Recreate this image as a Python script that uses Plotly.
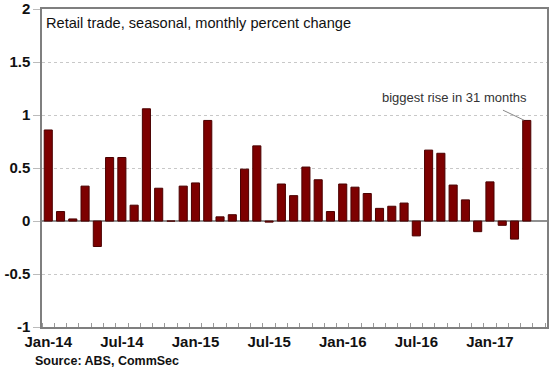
import plotly.graph_objects as go

months = ["Jan-14","Feb-14","Mar-14","Apr-14","May-14","Jun-14","Jul-14","Aug-14","Sep-14","Oct-14","Nov-14","Dec-14",
          "Jan-15","Feb-15","Mar-15","Apr-15","May-15","Jun-15","Jul-15","Aug-15","Sep-15","Oct-15","Nov-15","Dec-15",
          "Jan-16","Feb-16","Mar-16","Apr-16","May-16","Jun-16","Jul-16","Aug-16","Sep-16","Oct-16","Nov-16","Dec-16",
          "Jan-17","Feb-17","Mar-17","Apr-17"]
values = [0.86, 0.09, 0.02, 0.33, -0.24, 0.60, 0.60, 0.15, 1.06, 0.31, 0.00, 0.33,
          0.36, 0.95, 0.04, 0.06, 0.49, 0.71, -0.01, 0.35, 0.24, 0.51, 0.39, 0.09,
          0.35, 0.32, 0.26, 0.12, 0.14, 0.17, -0.14, 0.67, 0.64, 0.34, 0.20, -0.10,
          0.37, -0.04, -0.17, 0.95]
tick_labels = ["Jan-14", "Jul-14", "Jan-15", "Jul-15", "Jan-16", "Jul-16", "Jan-17"]
y_ticks = [-1, -0.5, 0, 0.5, 1, 1.5, 2]

x = list(range(len(months)))
tick_pos = [months.index(t) for t in tick_labels]

fig = go.Figure()
fig.add_trace(go.Bar(
    x=x, y=values,
    marker=dict(color="#7d0000", line=dict(color="#4a0000", width=1)),
    width=0.66,
    hovertext=months,
))

axis_color = "#7f7f7f"
fig.update_layout(
    width=550, height=373,
    margin=dict(l=42, r=3, t=9, b=46),
    paper_bgcolor="white", plot_bgcolor="white",
    showlegend=False,
    font=dict(family="Liberation Sans, Arial", color="#111"),
    xaxis=dict(
        range=[-0.51, 40.65], automargin=False,
        tickmode="array", tickvals=tick_pos, ticktext=tick_labels,
        ticks="", showgrid=False, zeroline=False, ticklabeloverflow="allow",
        showline=True, linecolor=axis_color, linewidth=1.5, mirror=True,
        tickfont=dict(size=15, family="Liberation Sans, Arial", color="#111", weight="bold"),
        minor=dict(tickmode="linear", tick0=0.5, dtick=1, ticks="inside", ticklen=4,
                   tickcolor="#999", showgrid=False),
    ),
    yaxis=dict(
        range=[-1, 2.002], automargin=False, ticklabeloverflow="allow",
        tickmode="array", tickvals=y_ticks, ticktext=[f"{v:g}" for v in y_ticks],
        ticks="outside", ticklen=7, tickcolor="#bbb",
        showgrid=True, gridcolor="#c8c8c8", griddash="dot", gridwidth=1,
        zeroline=True, zerolinecolor="#909090", zerolinewidth=1.5,
        showline=True, linecolor=axis_color, linewidth=1.5, mirror=True,
        tickfont=dict(size=15, family="Liberation Sans, Arial", color="#111", weight="bold"),
    ),
    bargap=0.34,
)

fig.add_annotation(
    xref="paper", yref="paper", x=0.003, y=0.988, xanchor="left", yanchor="top",
    text="Retail trade, seasonal, monthly percent change", showarrow=False,
    font=dict(size=14.6, family="Liberation Sans, Arial", color="#111"),
)
fig.add_annotation(
    xref="x", yref="y", x=33.15, y=1.17, xanchor="center", yanchor="middle",
    text="biggest rise in 31 months", showarrow=False,
    font=dict(size=13, family="Liberation Sans, Arial", color="#333"),
)
fig.add_shape(type="line", xref="x", yref="y", x0=37.06, y0=1.047, x1=38.77, y1=0.953,
              line=dict(color="#888", width=1))
fig.add_annotation(
    xref="paper", yref="paper", x=-0.017, y=-0.08, xanchor="left", yanchor="top",
    text="<b>Source: ABS, CommSec</b>", showarrow=False,
    font=dict(size=12.5, family="Liberation Sans, Arial", color="#111"),
)

fig.write_html("out.html", config={"displayModeBar": False},
               post_script="document.body.style.margin='0';")
